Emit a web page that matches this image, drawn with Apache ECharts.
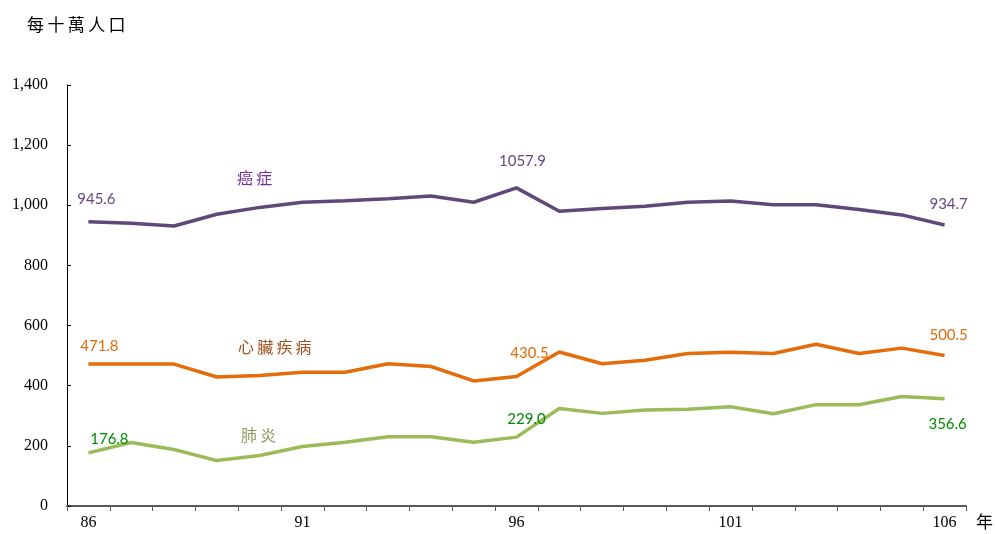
<!DOCTYPE html>
<html><head><meta charset="utf-8">
<script src="https://cdn.jsdelivr.net/npm/echarts@6/dist/echarts.min.js"></script>
<style>html,body{margin:0;padding:0;background:#fff}#c{width:995px;height:534px}</style>
</head><body><div id="c"></div>
<script>
const years = ['86','87','88','89','90','91','92','93','94','95','96','97','98','99','100','101','102','103','104','105','106'];
const cancer = [945.6,940,931,970,993,1010,1015,1022,1031,1010,1057.9,980,989,997,1010,1014,1002,1002,986,968,934.7];
const heart = [471.8,471.8,471.8,429,434,445,445,473,464,416,430.5,512,473,485,507,511,507,538,507,525,500.5];
const pneumonia = [176.8,211,188,151,168,198,212,230,230,212,229.0,324,308,319,322,330,307,337,337,364,356.6];
const yTicks = [0,200,400,600,800,1000,1200,1400];
const xLabelYears = ['86','91','96','101','106'];
const labelIdx = [0,10,20];

const numFont = '"Lato","Open Sans",sans-serif';
function withLabels(arr, color, offsets){
  return arr.map((v,i)=>{
    const k = labelIdx.indexOf(i);
    if(k<0) return v;
    return {value:v, label:{show:true, formatter:v.toFixed(1), color:color, fontFamily:numFont, fontSize:15, position:'top', offset:offsets[k]}};
  });
}
const hs = '\u2009';
const chart = echarts.init(document.getElementById('c'), null, {renderer:'canvas'});
chart.setOption({
  animation:false,
  grid:{left:67,right:29,top:85,bottom:28},
  xAxis:{type:'category',data:years,boundaryGap:true,
    axisLine:{lineStyle:{color:'#595959',width:2}},
    axisTick:{show:true,interval:0,length:5,lineStyle:{color:'#595959'}},
    axisLabel:{interval:0,margin:9,color:'#000',fontFamily:'"Liberation Serif",serif',fontSize:16,
      formatter:v=>xLabelYears.includes(v)?v:''}},
  yAxis:{type:'value',min:0,max:1400,interval:200,
    axisLine:{show:true,lineStyle:{color:'#000',width:1}},
    axisTick:{show:true,inside:true,length:4,lineStyle:{color:'#000'}},
    splitLine:{show:false},
    axisLabel:{margin:19,color:'#000',fontFamily:'"Liberation Serif",serif',fontSize:16,
      formatter:v=>yTicks.includes(v)?v.toLocaleString('en-US'):''}},
  series:[
    {name:'癌症',type:'line',data:withLabels(cancer,'#604a7b',[[8,-10],[6,-14],[4,-8]]),symbol:'circle',symbolSize:0,showSymbol:true,
      lineStyle:{color:'#5f497a',width:3.5},itemStyle:{color:'#5f497a'}},
    {name:'心臟疾病',type:'line',data:withLabels(heart,'#e46c0a',[[11,-5],[13,-11],[4,-8]]),symbol:'circle',symbolSize:0,showSymbol:true,
      lineStyle:{color:'#e46c0a',width:3.5},itemStyle:{color:'#e46c0a'}},
    {name:'肺炎',type:'line',data:withLabels(pneumonia,'#008a00',[[21,-1],[10,-5],[3,38]]),symbol:'circle',symbolSize:0,showSymbol:true,
      lineStyle:{color:'#9bbb59',width:3.5},itemStyle:{color:'#9bbb59'}}
  ],
  graphic:[
    {type:'text',left:27,top:16,style:{text:['每','十','萬','人','口'].join(hs),fill:'#000',font:'17px "Noto Sans CJK TC"'}},
    {type:'text',left:976,top:513,style:{text:'年',fill:'#000',font:'17px "Noto Sans CJK TC"'}},
    {type:'text',left:237,top:170,style:{text:'癌'+hs+'症',fill:'#7030a0',font:'16px "Noto Sans CJK TC"'}},
    {type:'text',left:238,top:339,style:{text:['心','臟','疾','病'].join(hs),fill:'#a0521e',font:'16px "Noto Sans CJK TC"'}},
    {type:'text',left:241,top:427,style:{text:'肺'+hs+'炎',fill:'#8a9a5b',font:'16px "Noto Sans CJK TC"'}}
  ]
});
</script></body></html>
